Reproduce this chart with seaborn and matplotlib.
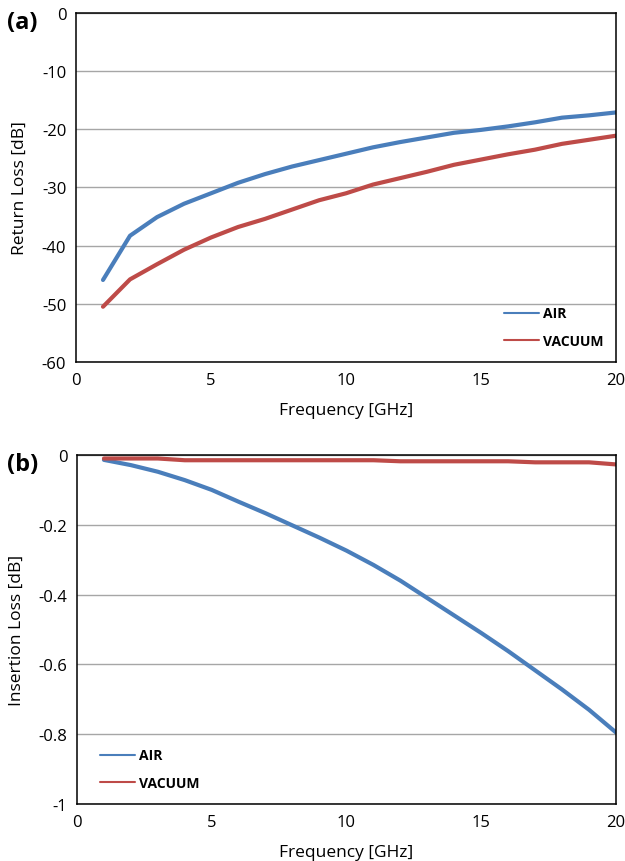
import matplotlib
matplotlib.use("Agg")
import matplotlib.pyplot as plt
import pandas as pd
import seaborn as sns
from matplotlib.lines import Line2D

FREQ = [1, 2, 3, 4, 5, 6, 7, 8, 9, 10, 11, 12, 13, 14, 15, 16, 17, 18, 19, 20]

RL_AIR = [-45.9, -38.3, -35.1, -32.8, -31.0, -29.2, -27.7, -26.4, -25.3, -24.2,
          -23.1, -22.2, -21.4, -20.6, -20.1, -19.5, -18.8, -18.0, -17.6, -17.1]
RL_VACUUM = [-50.5, -45.8, -43.2, -40.7, -38.6, -36.8, -35.4, -33.8, -32.2, -31.0,
             -29.5, -28.4, -27.3, -26.1, -25.2, -24.3, -23.5, -22.5, -21.8, -21.1]

IL_AIR = [-0.014, -0.029, -0.048, -0.072, -0.100, -0.134, -0.167, -0.202, -0.237, -0.274,
          -0.315, -0.360, -0.410, -0.460, -0.510, -0.562, -0.617, -0.672, -0.730, -0.795]
IL_VACUUM = [-0.010, -0.010, -0.010, -0.015, -0.015, -0.015, -0.015, -0.015, -0.015, -0.015,
             -0.015, -0.018, -0.018, -0.018, -0.018, -0.018, -0.021, -0.021, -0.021, -0.027]

SERIES = ["AIR", "VACUUM"]
PALETTE = {"AIR": "#4a7ebb", "VACUUM": "#be4b48"}


def long_frame(air, vacuum) -> pd.DataFrame:
    return pd.concat(
        [
            pd.DataFrame({"freq": FREQ, "value": air, "medium": "AIR"}),
            pd.DataFrame({"freq": FREQ, "value": vacuum, "medium": "VACUUM"}),
        ],
        ignore_index=True,
    )


def style_axes(ax, ylim, yticks, yfmt, ylabel, legend_anchor, panel):
    ax.set_xlim(0, 20)
    ax.set_ylim(*ylim)
    ax.set_xticks([0, 5, 10, 15, 20])
    ax.set_yticks(yticks)
    ax.set_yticklabels([yfmt(v) for v in yticks])
    ax.yaxis.grid(True, color="#a6a6a6", linewidth=1.0)
    ax.xaxis.grid(False)
    ax.set_axisbelow(True)
    for spine in ax.spines.values():
        spine.set_visible(True)
        spine.set_color("black")
        spine.set_linewidth(1.1)
    ax.tick_params(axis="x", direction="in", length=4, width=1, pad=7, labelsize=12)
    ax.tick_params(axis="y", direction="out", length=4, width=1, pad=3, labelsize=12)
    ax.set_xlabel("Frequency [GHz]", fontsize=12.5, labelpad=10)
    ax.set_ylabel(ylabel, fontsize=12.5, labelpad=10)
    handles = [Line2D([0], [0], color=PALETTE[s], lw=1.5) for s in SERIES]
    ax.legend(
        handles, SERIES, loc="upper left", bbox_to_anchor=legend_anchor,
        frameon=False, handlelength=2.5, labelspacing=0.95, handletextpad=0.3,
        prop={"weight": "bold", "size": 10},
    )
    pos = ax.get_position()
    ax.figure.text(0.012, pos.y1 - 0.011, panel,
                   fontsize=17, fontweight="bold", va="center", ha="left")


sns.set_theme(style="white")
plt.rcParams["font.family"] = ["Open Sans", "DejaVu Sans"]
plt.rcParams.update({"text.color": "black", "axes.labelcolor": "black",
                     "xtick.color": "black", "ytick.color": "black"})

fig = plt.figure(figsize=(6.25, 8.62), dpi=100)
ax_rl = fig.add_axes([0.1216, 0.5789, 0.864, 0.4049])
ax_il = fig.add_axes([0.1232, 0.0661, 0.8624, 0.4049])

sns.lineplot(data=long_frame(RL_AIR, RL_VACUUM), x="freq", y="value", hue="medium",
             palette=PALETTE, linewidth=3, ax=ax_rl, legend=False)
sns.lineplot(data=long_frame(IL_AIR, IL_VACUUM), x="freq", y="value", hue="medium",
             palette=PALETTE, linewidth=3, ax=ax_il, legend=False)

style_axes(ax_rl, (-60, 0), [0, -10, -20, -30, -40, -50, -60], lambda v: f"{v:d}",
           "Return Loss [dB]", (0.77, 0.195), "(a)")
style_axes(ax_il, (-1, 0), [0, -0.2, -0.4, -0.6, -0.8, -1],
           lambda v: "0" if v == 0 else ("-1" if v == -1 else f"{v:.1f}"),
           "Insertion Loss [dB]", (0.02, 0.195), "(b)")

fig.savefig("out.png", dpi=100)
